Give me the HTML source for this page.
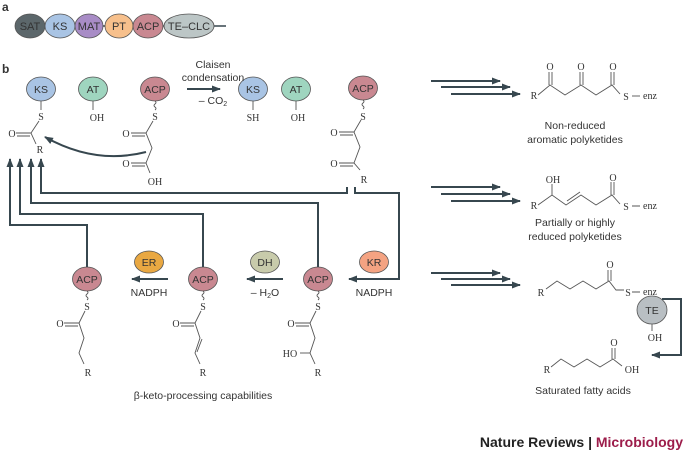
<!DOCTYPE html>
<html><head><meta charset="utf-8"><style>
html,body{margin:0;padding:0;background:#fff}
svg{display:block}
.s{font-family:"Liberation Sans",sans-serif;fill:#333}
.c{font-family:"Liberation Serif",serif;fill:#333;font-size:10px}
.e{stroke:#555;stroke-width:0.8}
</style></head><body>
<svg width="685" height="451" viewBox="0 0 685 451" xmlns="http://www.w3.org/2000/svg">
<defs><marker id="ah" markerWidth="9" markerHeight="8" refX="8" refY="4" orient="auto" markerUnits="userSpaceOnUse"><path d="M0,0.5 L9,4 L0,7.5 z" fill="#37474f"/></marker></defs>
<g class="s" font-weight="bold" font-size="12"><text x="2" y="11">a</text><text x="2" y="73">b</text></g>
<line x1="15" y1="26" x2="226" y2="26" stroke="#37474f" stroke-width="1.5"/>
<g class="e" stroke="#444">
<ellipse cx="30" cy="26" rx="15" ry="12" fill="#5c676b"/>
<ellipse cx="60" cy="26" rx="15" ry="12" fill="#a9c4e4"/>
<ellipse cx="89" cy="26" rx="14" ry="12" fill="#a88cc6"/>
<ellipse cx="119" cy="26" rx="14" ry="12" fill="#f7c08c"/>
<ellipse cx="148" cy="26" rx="15" ry="12" fill="#c98891"/>
<ellipse cx="189" cy="26" rx="25" ry="12" fill="#bcc6c6"/>
</g>
<g class="s" font-size="11" text-anchor="middle">
<text x="30" y="30">SAT</text><text x="60" y="30">KS</text><text x="89" y="30">MAT</text><text x="119" y="30">PT</text><text x="148" y="30">ACP</text><text x="189" y="30">TE–CLC</text>
</g>
<g class="e">
<ellipse cx="41" cy="89" rx="14.5" ry="12" fill="#a9c4e4"/>
<ellipse cx="93" cy="89" rx="14.5" ry="12" fill="#9fd5bf"/>
<ellipse cx="155" cy="89" rx="14.5" ry="12" fill="#c98891"/>
<ellipse cx="253" cy="89" rx="14.5" ry="12" fill="#a9c4e4"/>
<ellipse cx="296" cy="89" rx="14.5" ry="12" fill="#9fd5bf"/>
<ellipse cx="363" cy="88" rx="14.5" ry="12" fill="#c98891"/>
<ellipse cx="87" cy="279" rx="14.5" ry="12" fill="#c98891"/>
<ellipse cx="203" cy="279" rx="14.5" ry="12" fill="#c98891"/>
<ellipse cx="318" cy="279" rx="14.5" ry="12" fill="#c98891"/>
<ellipse cx="149" cy="262" rx="14.5" ry="11" fill="#e9a842"/>
<ellipse cx="265" cy="262" rx="14.5" ry="11" fill="#c8cbab"/>
<ellipse cx="374" cy="262" rx="14.5" ry="11" fill="#f4a382"/>
<ellipse cx="652" cy="310" rx="15" ry="14" fill="#b9bfc3"/>
</g>
<g class="s" font-size="10.5" text-anchor="middle">
<text x="41" y="93">KS</text><text x="93" y="93">AT</text><text x="155" y="93">ACP</text>
<text x="253" y="93">KS</text><text x="296" y="93">AT</text><text x="363" y="92">ACP</text>
<text x="87" y="283">ACP</text><text x="203" y="283">ACP</text><text x="318" y="283">ACP</text>
<text x="149" y="266">ER</text><text x="265" y="266">DH</text><text x="374" y="266">KR</text>
<text x="652" y="314">TE</text>
<text x="213" y="68">Claisen</text><text x="213" y="81">condensation</text>
<text x="213" y="104">– CO<tspan font-size="7" dy="2">2</tspan></text>
<text x="149" y="296">NADPH</text><text x="265" y="296">– H<tspan font-size="7" dy="2">2</tspan><tspan dy="-2">O</tspan></text><text x="374" y="296">NADPH</text>
<text x="203" y="399">β-keto-processing capabilities</text>
<text x="575" y="129">Non-reduced</text><text x="575" y="143">aromatic polyketides</text>
<text x="575" y="226">Partially or highly</text><text x="575" y="240">reduced polyketides</text>
<text x="583" y="394">Saturated fatty acids</text>
</g>
<g stroke="#555" stroke-width="0.9" fill="none">
<line x1="41" y1="101" x2="41" y2="110"/>
<line x1="93" y1="101" x2="93" y2="110"/>
<line x1="253" y1="101" x2="253" y2="110"/>
<line x1="296" y1="101" x2="296" y2="110"/>
<path d="M155,101 q2,1.5 0,3 q-2,1.5 0,3 q2,1.5 0,3"/>
<path d="M363,100 q2,1.5 0,3 q-2,1.5 0,3 q2,1.5 0,3"/>
<path d="M87,291 q2,1.5 0,3 q-2,1.5 0,3 q2,1.5 0,3"/>
<path d="M203,291 q2,1.5 0,3 q-2,1.5 0,3 q2,1.5 0,3"/>
<path d="M318,291 q2,1.5 0,3 q-2,1.5 0,3 q2,1.5 0,3"/>
<path d="M39,121 L31,133 L36,144"/><path d="M16,133 L31,133 M17,136 L30,136"/>
<path d="M153,121 L146,133 L152,148 L146,163 L150,173"/><path d="M131,133 L146,133 M132,136 L145,136"/><path d="M131,163 L146,163 M132,166 L145,166"/>
<path d="M361,120 L354,132 L360,147 L354,163 L360,170"/><path d="M339,132 L354,132 M340,135 L353,135"/><path d="M339,163 L354,163 M340,166 L353,166"/>
<path d="M85,311 L79,323 L84,338 L79,353 L84,364"/><path d="M64,323 L79,323 M65,326 L78,326"/>
<path d="M201,311 L195,323 L200,338 L195,353 L200,364 M202,339 L197,352"/><path d="M180,323 L195,323 M181,326 L194,326"/>
<path d="M316,311 L310,323 L315,338 L310,353 L315,364"/><path d="M295,323 L310,323 M296,326 L309,326"/><path d="M300,353 L310,353"/>
<path d="M538,95 L550,85 L565,95 L581,85 L596,95 L612,85 L620,94"/>
<path d="M549,85 L549,72 M552,85 L552,72 M580,85 L580,72 M583,85 L583,72 M611,85 L611,72 M614,85 L614,72"/>
<path d="M632,96 L640,96"/>
<path d="M538,205 L552,195 L566,205 L581,195 L596,205 L612,195 L620,204 M552,195 L552,184 M567,201 L580,192"/>
<path d="M611,195 L611,182 M614,195 L614,182 M632,206 L640,206"/>
<path d="M546,289 L557,281 L570,289 L583,281 L596,289 L609,281 L616,290 L624,290"/>
<path d="M608,281 L608,270 M611,281 L611,270 M632,292 L640,292 M652,324 L652,331"/>
<path d="M551,367 L561,359 L574,367 L587,359 L600,367 L613,359 L622,366 M612,359 L612,348 M615,359 L615,348"/>
</g>
<g class="c" text-anchor="middle">
<text x="41" y="120">S</text><text x="12" y="137">O</text><text x="40" y="153">R</text>
<text x="97" y="121">OH</text><text x="155" y="120">S</text><text x="126" y="137">O</text><text x="126" y="167">O</text><text x="155" y="185">OH</text>
<text x="253" y="121">SH</text><text x="298" y="121">OH</text>
<text x="363" y="120">S</text><text x="334" y="136">O</text><text x="334" y="167">O</text><text x="364" y="183">R</text>
<text x="87" y="310">S</text><text x="60" y="327">O</text><text x="88" y="376">R</text>
<text x="203" y="310">S</text><text x="176" y="327">O</text><text x="203" y="376">R</text>
<text x="318" y="310">S</text><text x="291" y="327">O</text><text x="290" y="357">HO</text><text x="318" y="376">R</text>
<text x="534" y="99">R</text><text x="550" y="70">O</text><text x="581" y="70">O</text><text x="613" y="70">O</text><text x="626" y="100">S</text><text x="650" y="99">enz</text>
<text x="534" y="209">R</text><text x="553" y="183">OH</text><text x="613" y="181">O</text><text x="626" y="210">S</text><text x="650" y="209">enz</text>
<text x="541" y="296">R</text><text x="610" y="268">O</text><text x="628" y="296">S</text><text x="650" y="295">enz</text><text x="655" y="341">OH</text>
<text x="547" y="373">R</text><text x="614" y="346">O</text><text x="632" y="373">OH</text>
</g>
<g stroke="#37474f" stroke-width="2" fill="none">
<line x1="187" y1="89" x2="220" y2="89" marker-end="url(#ah)"/>
<path d="M146,152 Q95,165 45,137" marker-end="url(#ah)"/>
<path d="M347,187 L347,193 L41,193 L41,159" marker-end="url(#ah)"/>
<path d="M355,187 L355,193 L399,193 L399,279 L349,279" marker-end="url(#ah)"/>
<path d="M318,267 L318,203 L31,203 L31,159" marker-end="url(#ah)"/>
<path d="M203,267 L203,214 L20,214 L20,159" marker-end="url(#ah)"/>
<path d="M87,267 L87,225 L10,225 L10,159" marker-end="url(#ah)"/>
<line x1="168" y1="279" x2="132" y2="279" marker-end="url(#ah)"/>
<line x1="283" y1="279" x2="247" y2="279" marker-end="url(#ah)"/>
<line x1="431" y1="81" x2="500" y2="81" marker-end="url(#ah)"/>
<line x1="441" y1="87" x2="510" y2="87" marker-end="url(#ah)"/>
<line x1="451" y1="94" x2="520" y2="94" marker-end="url(#ah)"/>
<line x1="431" y1="187" x2="500" y2="187" marker-end="url(#ah)"/>
<line x1="441" y1="194" x2="510" y2="194" marker-end="url(#ah)"/>
<line x1="451" y1="201" x2="520" y2="201" marker-end="url(#ah)"/>
<line x1="431" y1="273" x2="500" y2="273" marker-end="url(#ah)"/>
<line x1="441" y1="279" x2="510" y2="279" marker-end="url(#ah)"/>
<line x1="451" y1="285" x2="520" y2="285" marker-end="url(#ah)"/>
<path d="M662,299 L681,299 L681,355 L652,355" marker-end="url(#ah)"/>
</g>
<text x="683" y="447" text-anchor="end" font-family="Liberation Sans,sans-serif" font-size="14" font-weight="bold" fill="#222">Nature Reviews | <tspan fill="#9c1c4a">Microbiology</tspan></text>
</svg>
</body></html>
